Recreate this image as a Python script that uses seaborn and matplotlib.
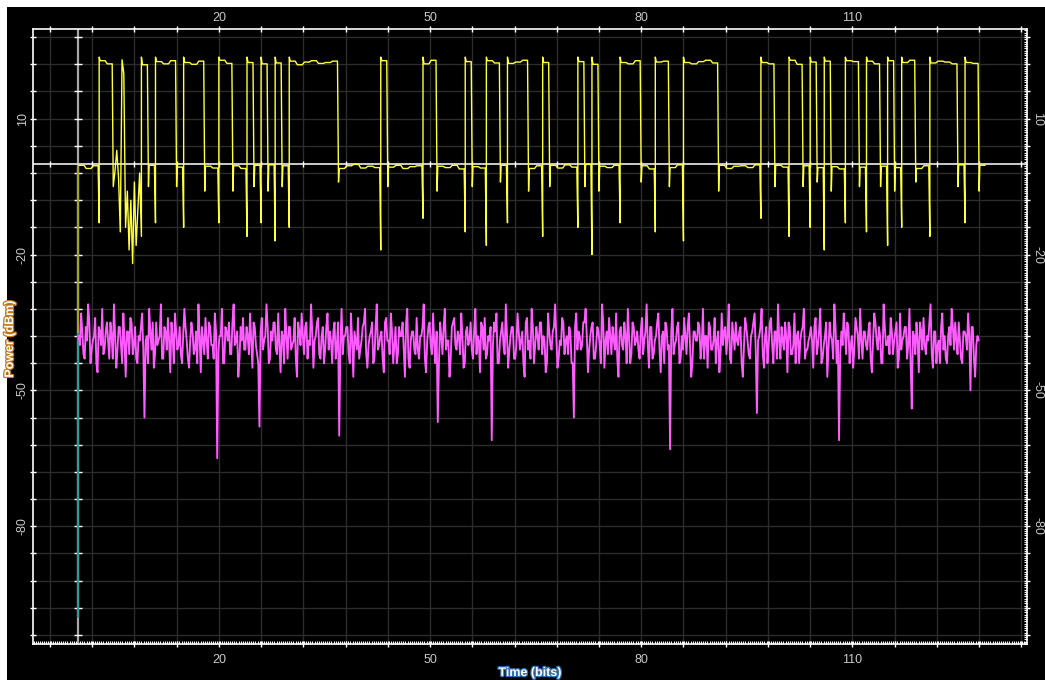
import numpy as np
import pandas as pd
import matplotlib
matplotlib.use("Agg")
import matplotlib.pyplot as plt
import matplotlib.patheffects as pe
from matplotlib.patches import Rectangle
from matplotlib.ticker import MultipleLocator, FixedLocator, FuncFormatter
import seaborn as sns

# ---- data ----
# received bit pattern (yellow trace), one entry per bit slot
bits = [0, 0, 0, 1, 1, 0, 0, 0, 0, 1, 0, 1, 1, 1, 0, 1,
        1, 1, 0, 0, 1, 1, 0, 0, 1, 0, 1, 0, 1, 0, 1, 1,
        1, 1, 1, 1, 1, 0, 0, 0, 0, 0, 0, 1, 0, 0, 0, 0,
        0, 1, 1, 0, 0, 0, 0, 1, 0, 0, 1, 1, 0, 1, 1, 1,
        0, 0, 1, 0, 0, 0, 0, 1, 0, 1, 0, 0, 0, 1, 1, 1,
        0, 0, 1, 1, 0, 0, 1, 1, 1, 1, 1, 0, 0, 0, 0, 0,
        0, 1, 1, 0, 0, 1, 1, 0, 1, 0, 1, 0, 0, 1, 1, 0,
        1, 1, 0, 1, 0, 1, 1, 0, 0, 1, 1, 1, 1, 0, 1, 1,
        0]

# small level wander on each bit (dB)
ripple = [0.3, -0.4, 0.2, 0.4, -0.3, 0.0, 0.5, -0.2, 0.1, -0.5, 0.3, 0.2, -0.3, 0.4, -0.1, 0.0,
          -0.4, 0.3, 0.1, -0.3, 0.5, -0.2, 0.2, -0.4, 0.0, 0.3, -0.3, 0.4, -0.1, 0.2, 0.3, -0.5,
          0.1, 0.4, -0.2, 0.0, 0.3, -0.4, 0.2, 0.5, -0.3, 0.1, -0.2, 0.4, -0.1, 0.3, -0.4, 0.0,
          0.2, -0.3, 0.5, 0.1, -0.2, 0.3, -0.5, 0.2, 0.0, -0.3, 0.4, -0.1, 0.3, -0.2, 0.1, 0.5,
          -0.4, 0.2, 0.0, 0.3, -0.3, 0.4, -0.1, 0.2, 0.5, -0.4, 0.1, -0.2, 0.3, 0.0, -0.3, 0.4,
          0.2, -0.5, 0.1, 0.3, -0.2, 0.4, 0.0, -0.3, 0.2, 0.5, -0.1, 0.3, -0.4, 0.1, 0.2, -0.2,
          0.4, 0.0, -0.3, 0.3, -0.1, 0.5, -0.4, 0.2, 0.1, -0.2, 0.3, 0.0, -0.5, 0.4, 0.2, -0.1,
          0.3, -0.3, 0.1, 0.4, -0.2, 0.0, 0.5, -0.4, 0.2, -0.1, 0.3, 0.1, -0.3, 0.4, 0.0, -0.2,
          0.3]

# dip just before each rising edge, undershoot after each falling edge (dBm)
rise_dip = [-13, -16, -13, -14, -13, -16, -13, -17, -14, -19, -12, -15, -18, -13, -16, -14,
            -20, -13, -15, -17, -12, -16, -14, -19, -13, -15, -18, -14, -16, -13, -17, -15,
            -14, -18, -13, -16, -15, -19, -14, -13, -17, -15, -16, -14, -18, -13, -15, -16]
fall_dip = [-5, -5, -6, -6, -5, -6, -5, -4, -5, -6, -5, -4, -6, -5, -5, -6,
            -4, -5, -6, -5, -5, -4, -6, -5, -5, -6, -4, -5, -6, -5, -5, -4,
            -5, -6, -5, -4, -6, -5, -5, -6, -4, -5, -5, -6, -5, -4, -5, -6]

# distorted stretch at bits 5-8, quarter-bit samples (dBm)
glitch_start = 5
glitch = [-5, -1.5, 3, -3, -15, 23, 20, -14, -6, -19, -8, -22, -4, -18, -10, -2]

# noise-floor channel (magenta), dBm; outer excursions and in-between samples,
# three of each per bit
magenta = [
    -38, -33, -42, -36, -31, -44, -39, -34, -46, -37, -32, -41, -35, -43, -38, -31, -45, -36, -40, -33, -47, -37, -34, -42,
    -36, -44, -39, -33, -56, -38, -32, -41, -45, -35, -39, -31, -43, -37, -34, -46, -38, -33, -41, -36, -44, -32, -39, -45,
    -35, -42, -37, -31, -46, -39, -34, -43, -36, -40, -33, -65, -38, -32, -44, -37, -35, -42, -31, -39, -47, -36, -34, -41,
    -38, -33, -45, -36, -42, -58, -34, -39, -31, -44, -37, -35, -41, -33, -46, -38, -32, -43, -36, -40, -34, -47, -37, -33,
    -42, -35, -39, -31, -45, -38, -34, -43, -36, -41, -33, -37, -44, -35, -40, -60, -32, -38, -36, -42, -33, -47, -39, -34,
    -41, -36, -32, -45, -38, -35, -43, -31, -40, -37, -46, -34, -39, -33, -44, -36, -42, -38, -35, -47, -32, -45, -37, -41,
    -34, -43, -38, -31, -46, -36, -40, -33, -44, -57, -35, -42, -32, -39, -47, -36, -34, -41, -38, -33, -45, -37, -40, -35,
    -43, -32, -38, -46, -36, -34, -42, -39, -61, -35, -33, -44, -37, -40, -31, -45, -38, -36, -43, -33, -41, -37, -47, -34,
    -39, -32, -44, -36, -41, -35, -38, -46, -33, -40, -37, -31, -45, -39, -34, -42, -38, -36, -44, -56, -33, -37, -41, -35,
    -32, -46, -38, -35, -43, -36, -40, -31, -45, -37, -34, -42, -39, -33, -47, -36, -41, -38, -32, -44, -35, -40, -37, -43,
    -34, -39, -31, -45, -36, -42, -38, -33, -46, -37, -35, -41, -63, -32, -40, -36, -44, -38, -34, -42, -33, -47, -37, -39,
    -35, -43, -32, -38, -45, -36, -41, -34, -39, -46, -33, -37, -42, -31, -44, -38, -35, -40, -36, -47, -34, -39, -43, -37,
    -33, -55, -38, -32, -45, -36, -40, -34, -44, -37, -31, -43, -39, -35, -46, -36, -42, -33, -38, -44, -37, -32, -41, -39,
    -36, -45, -34, -40, -32, -43, -38, -47, -35, -39, -31, -44, -61, -37, -33, -42, -36, -40, -45, -34, -38, -32, -43, -37,
    -41, -35, -46, -33, -39, -36, -44, -31, -40, -38, -34, -42, -37, -45, -33, -39, -36, -43, -32, -54, -38, -35, -46, -37,
    -34, -42, -39, -31, -45, -37, -40, -44, -33, -38, -44, -36, -32, -41, -39, -35, -43, -37, -38, -33, -50, -36, -47, -38,
]
magenta_mid = [
    -40, -37, -43, -39, -35, -41, -38, -44, -36, -40, -42, -37, -39, -35, -43, -38, -41, -36, -44, -39, -37, -42, -35, -40,
    -43, -38, -36, -41, -39, -44, -37, -35, -42, -40, -38, -43, -36, -41, -39, -35, -44, -37, -40, -42, -38, -36, -43, -39,
    -37, -41, -44, -38, -36, -42, -39, -35, -40, -43, -37, -41, -38, -44, -36, -39, -42, -35, -40, -37, -43, -39, -41, -36,
    -42, -39, -35, -40, -44, -37, -41, -38, -36, -43, -39, -35, -42, -40, -37, -44, -38, -36, -41, -39, -43, -35, -40, -38,
    -36, -43, -40, -37, -39, -35, -42, -38, -44, -36, -41, -39, -37, -43, -35, -40, -42, -38, -36, -44, -39, -37, -41, -43,
    -39, -35, -42, -40, -37, -44, -36, -41, -38, -43, -35, -39, -42, -37, -40, -44, -36, -38, -41, -35, -43, -39, -37, -42,
    -41, -38, -36, -43, -39, -35, -42, -40, -37, -44, -38, -36, -41, -39, -43, -35, -40, -37, -42, -38, -44, -36, -39, -41,
    -37, -42, -39, -35, -41, -43, -38, -36, -40, -37, -44, -39, -35, -42, -38, -41, -36, -43, -40, -37, -39, -44, -35, -41,
    -43, -36, -40, -38, -35, -42, -39, -44, -37, -41, -36, -38, -43, -40, -35, -39, -42, -37, -44, -36, -41, -38, -40, -35,
    -38, -41, -36, -43, -40, -37, -44, -35, -39, -42, -38, -36, -41, -43, -37, -40, -35, -44, -38, -42, -36, -39, -41, -37,
    -42, -37, -40, -36, -43, -39, -35, -41, -38, -44, -36, -40, -37, -42, -39, -35, -43, -41, -38, -36, -40, -44, -37, -39,
    -36, -40, -43, -38, -35, -41, -39, -44, -37, -42, -40, -36, -38, -43, -35, -41, -39, -37, -44, -40, -36, -42, -38, -35,
    -41, -39, -36, -42, -38, -44, -35, -40, -37, -43, -39, -36, -41, -38, -35, -42, -40, -44, -37, -39, -36, -43, -41, -38,
    -39, -36, -42, -37, -44, -40, -35, -41, -38, -43, -36, -39, -42, -40, -37, -35, -44, -38, -41, -36, -43, -39, -37, -40,
    -37, -43, -39, -35, -41, -38, -44, -36, -40, -42, -37, -39, -35, -43, -41, -38, -36, -40, -44, -37, -42, -39, -35, -41,
    -40, -38, -35, -42, -37, -44, -39, -36, -41, -43, -38, -40, -36, -35, -42, -39, -44, -37, -41, -38, -36, -43, -40, -39,
]

HIGH, LOW = 22.4, -0.6
start_yellow = [LOW, -37]      # vertical lead-in of the traces at t=0
start_cyan = [-37, -100]

x_labels = [20, 50, 80, 110]
y_labels = [10, -20, -50, -80]

# ---- build the yellow trace ----
ty, vy = [], []
ri = fi = 0
for i, b in enumerate(bits):
    if glitch_start <= i < glitch_start + len(glitch) // 4:
        for k in range(4):
            ty.append(i + k / 4)
            vy.append(glitch[(i - glitch_start) * 4 + k])
        continue
    lvl = (HIGH if b else LOW) + ripple[i]
    if i > 0 and b != bits[i - 1]:
        if b:
            ty += [i, i]
            vy += [rise_dip[ri], HIGH + 1.2]
            ri += 1
        else:
            ty += [i, i + 0.1]
            vy += [fall_dip[fi], lvl]
            fi += 1
    ty += [i + 0.15, i + 0.85]
    vy += [lvl, lvl]

yellow_df = pd.DataFrame({"t": ty, "p": vy})

# interleave the two magenta sample sets -> six samples per bit
mp = np.empty(2 * len(magenta))
mp[0::2] = magenta
mp[1::2] = magenta_mid
magenta_df = pd.DataFrame({"t": np.arange(len(mp)) / 6 + 0.1, "p": mp})

# ---- style ----
sns.set_theme(style="dark")
plt.rcParams["font.family"] = ["Liberation Sans", "DejaVu Sans"]

fig = plt.figure(figsize=(10.45, 6.8), dpi=100)
fig.patch.set_facecolor("white")
fig.patches.append(Rectangle((7 / 1045, 0), 1, 673 / 680, transform=fig.transFigure,
                             facecolor="black", edgecolor="none", zorder=-10))
ax = fig.add_axes([33 / 1045, 1 - 644 / 680, (1027 - 33) / 1045, (644 - 29) / 680])
ax.set_facecolor("black")

ax.set_xlim(-6.4, 134.8)
ax.set_ylim(-106.0, 29.8)

xt = np.arange(-4, 135, 6)
yt = np.arange(-104, 30, 6)
ax.xaxis.set_major_locator(FixedLocator(xt))
ax.yaxis.set_major_locator(FixedLocator(yt))
ax.xaxis.set_minor_locator(MultipleLocator(0.3))
ax.yaxis.set_minor_locator(MultipleLocator(0.5))
ax.xaxis.set_major_formatter(FuncFormatter(lambda v, p: f"{v:.0f}" if round(v) in x_labels else ""))
ax.yaxis.set_major_formatter(FuncFormatter(lambda v, p: f"{v:.0f}" if round(v) in y_labels else ""))

ax.grid(True, which="major", color="#2c2c2c", lw=1.0)
ax.grid(False, which="minor")
for s in ax.spines.values():
    s.set_color("white")
    s.set_linewidth(1.2)
    s.set_visible(True)

ax.tick_params(which="major", direction="inout", length=5, width=1, color="white",
               labelcolor="#c8c8c8", labelsize=9,
               top=True, right=True, bottom=True, left=True,
               labeltop=False, labelright=True)
ax.tick_params(axis="x", which="major", pad=5)
ax.tick_params(axis="y", which="major", pad=0.5)
ax.tick_params(which="minor", direction="in", length=2, width=0.8, color="white",
               bottom=True, right=True, top=False, left=False)
for tk in ax.yaxis.get_major_ticks():
    tk.label1.set_rotation(90)
    tk.label1.set_va("center")
    tk.label2.set_rotation(-90)
    tk.label2.set_va("center")

# top labels sit closer to the frame than the bottom ones
for v in x_labels:
    ax.text(v, 1 + 11 / 615, str(v), transform=ax.get_xaxis_transform(),
            ha="center", va="center", color="#c8c8c8", fontsize=9)

# crosshair at t=0 / 0 dBm with its own small ticks
ax.axvline(0, color="#a8a8a8", lw=1.6, zorder=2)
ax.axhline(0, color="#dcdcdc", lw=1.3, zorder=2)
ax.plot(xt, np.zeros_like(xt), ls="none", marker="|", ms=5, mew=1, color="white", zorder=2)
ax.plot(np.zeros_like(yt), yt, ls="none", marker="_", ms=6, mew=1, color="white", zorder=2)

# traces
ax.plot([0, 0], start_cyan, color="#2a9d9d", lw=1.6, zorder=3)
ax.plot([0, 0], start_yellow, color="#a4a42c", lw=1.6, zorder=3)
sns.lineplot(data=magenta_df, x="t", y="p", color="#ff5cff", lw=1.35,
             estimator=None, sort=False, ax=ax, zorder=4)
sns.lineplot(data=yellow_df, x="t", y="p", color="#ffff3c", lw=1.0,
             estimator=None, sort=False, ax=ax, zorder=5)

ax.set_xlabel("")
ax.set_ylabel("")
fig.text(530 / 1045, 1 - 673 / 680, "Time (bits)", color="white", fontsize=9, fontweight="bold",
         ha="center", va="center",
         path_effects=[pe.withStroke(linewidth=1.8, foreground="#2d6fb0")])
fig.text(10 / 1045, 1 - 339 / 680, "Power (dBm)", color="white", fontsize=9, fontweight="bold",
         ha="center", va="center", rotation=90,
         path_effects=[pe.withStroke(linewidth=1.8, foreground="#c07818")])

fig.savefig("out.png", dpi=100, facecolor=fig.get_facecolor())
